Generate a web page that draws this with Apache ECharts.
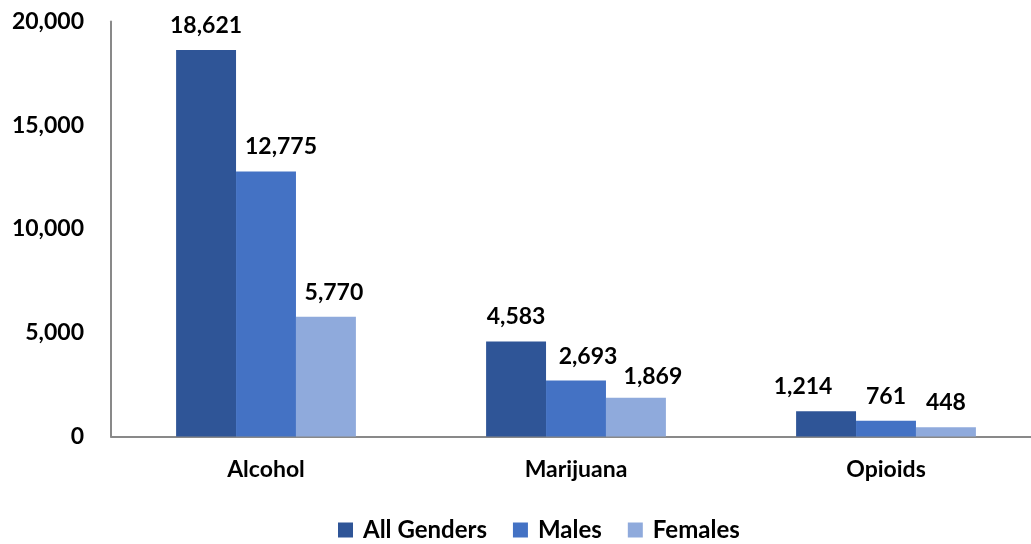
<!DOCTYPE html>
<html>
<head>
<meta charset="utf-8">
<script src="https://cdn.jsdelivr.net/npm/echarts@6/dist/echarts.min.js"></script>
<style>
html,body{margin:0;padding:0;background:#fff;overflow:hidden;}
#chart{width:1045px;height:544px;}
</style>
</head>
<body>
<div id="chart"></div>
<script>
const categories = ['Alcohol', 'Marijuana', 'Opioids'];
const allGenders = [18621, 4583, 1214];
const males = [12775, 2693, 761];
const females = [5770, 1869, 448];
const seriesNames = ['All Genders', 'Males', 'Females'];
const colors = ['#2F5597', '#4472C4', '#8FAADC'];

// manual label nudges (style only), per series per category
const labelNudges = [
  [[0, 0], [0, 0], [-23, 0]],
  [[15, 0], [12, 0], [0, 0]],
  [[8, 0], [17, 3], [0, 0]]
];

const FONT = 'Lato';
const chart = echarts.init(document.getElementById('chart'));
const fmt = v => v.toLocaleString('en-US');
function mk(idx, data) {
  return {
    name: seriesNames[idx], type: 'bar', barGap: '0%', barCategoryGap: '42%',
    data: data.map((v, i) => ({ value: v, label: { offset: labelNudges[idx][i] } })),
    itemStyle: { color: colors[idx] },
    label: { show: true, position: 'top', distance: 13, color: '#000', fontFamily: FONT,
             fontWeight: 'bold', fontSize: 23, formatter: p => fmt(p.value) }
  };
}
chart.setOption({
  animation: false,
  grid: { left: 111, right: 4, top: 21.5, bottom: 107.5, containLabel: false },
  legend: {
    top: 513, left: 333, itemWidth: 15, itemHeight: 15, itemGap: 26,
    icon: 'rect',
    textStyle: { fontFamily: FONT, fontWeight: 'bold', fontSize: 24, color: '#000', padding: [0, 0, 0, 5] },
    data: seriesNames
  },
  xAxis: {
    type: 'category', data: categories,
    axisLine: { lineStyle: { color: '#898989', width: 2 } },
    axisTick: { show: false },
    axisLabel: { margin: 22, color: '#000', fontFamily: FONT, fontWeight: 'bold', fontSize: 23 }
  },
  yAxis: {
    type: 'value', min: 0, max: 20000, interval: 5000,
    axisLine: { show: true, lineStyle: { color: '#898989', width: 2 } },
    axisTick: { show: false },
    splitLine: { show: false },
    axisLabel: { margin: 27, color: '#000', fontFamily: FONT, fontWeight: 'bold', fontSize: 23,
                 formatter: v => fmt(v) }
  },
  series: [mk(0, allGenders), mk(1, males), mk(2, females)]
});
</script>
</body>
</html>
